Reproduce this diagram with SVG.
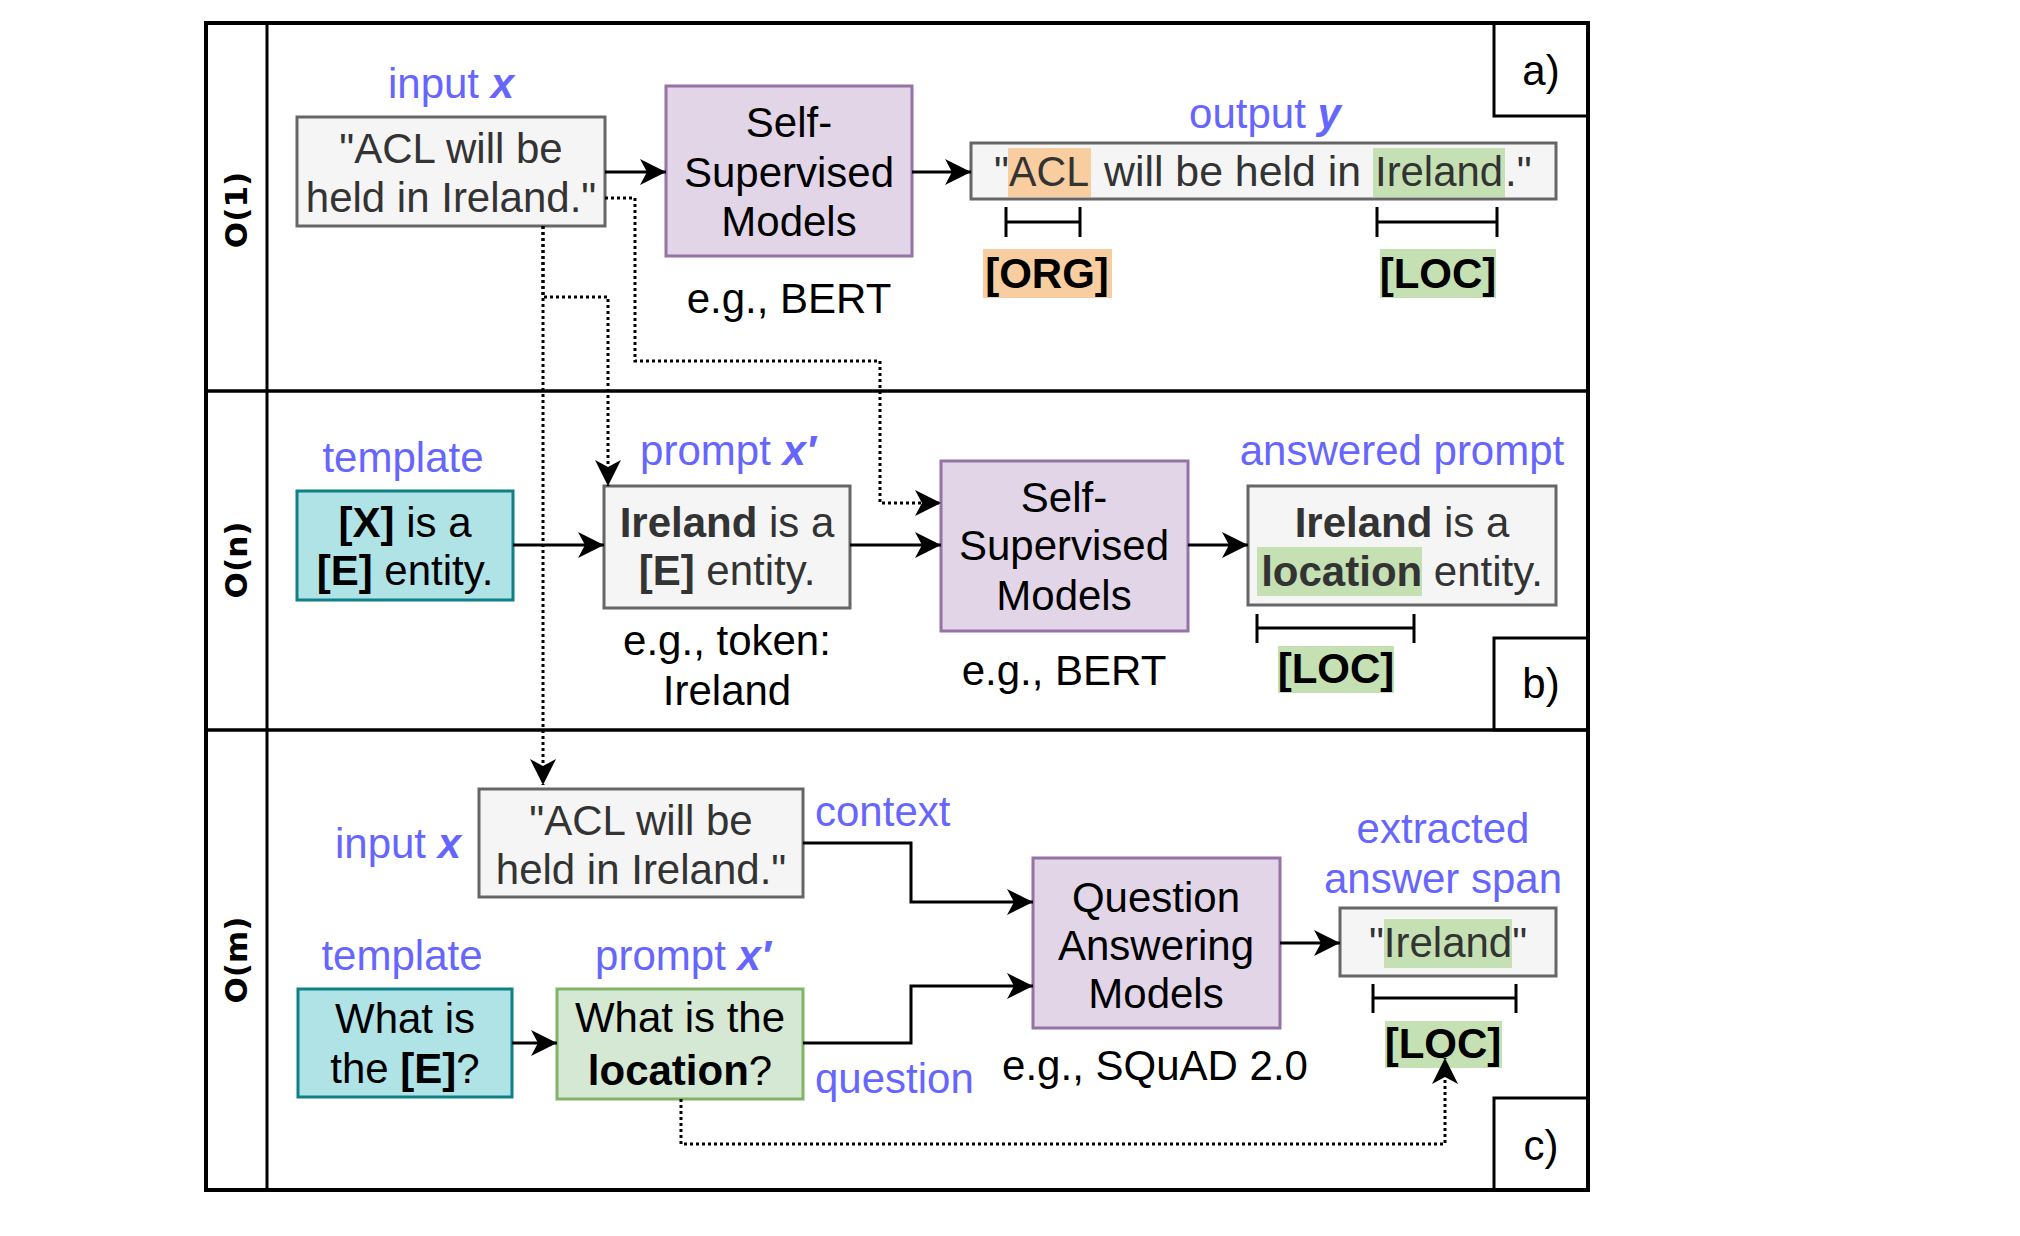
<svg xmlns="http://www.w3.org/2000/svg" width="2020" height="1236" viewBox="0 0 2020 1236">
<style>
text{font-family:"Liberation Sans",Arial,Helvetica,sans-serif;font-size:42px;fill:#000}
.c{text-anchor:middle}
.g{fill:#333333}
.b{font-weight:bold}
.bi{font-weight:bold;font-style:italic}
.blue{fill:#6666ff}
.lane{font-family:"DejaVu Sans",Verdana,sans-serif;font-weight:bold;font-size:31px;text-anchor:middle}
.gray{fill:#f5f5f5;stroke:#666666;stroke-width:3}
.purple{fill:#e1d5e7;stroke:#9673a6;stroke-width:3}
.teal{fill:#b0e3e6;stroke:#0e8088;stroke-width:3}
.green{fill:#d5e8d4;stroke:#82b366;stroke-width:3}
.hlg{fill:#c5e0b3}
.hlo{fill:#f8cea0}
.br{stroke:#000;stroke-width:3;fill:none}
.edge{stroke:#000;stroke-width:3;fill:none;marker-end:url(#arr)}
.dot{stroke:#000;stroke-width:3;fill:none;stroke-dasharray:3 3;marker-end:url(#arr)}
.frame{fill:none;stroke:#000;stroke-width:3}
</style>
<defs>
<marker id="arr" markerUnits="userSpaceOnUse" markerWidth="28" markerHeight="28" refX="26" refY="13" orient="auto" viewBox="0 0 28 28">
<path d="M0,0 L26,13 L0,26 L7,13 z" fill="#000"/>
</marker>
</defs>
<rect x="0" y="0" width="2020" height="1236" fill="#fff"/>

<g id="lanes">
<rect x="206" y="23" width="1382" height="1167" fill="#fff" stroke="#000" stroke-width="4"/>
<line x1="267" y1="23" x2="267" y2="1190" stroke="#000" stroke-width="3"/>
<line x1="206" y1="391" x2="1588" y2="391" stroke="#000" stroke-width="3.5"/>
<line x1="206" y1="730" x2="1588" y2="730" stroke="#000" stroke-width="3.5"/>
<text class="lane" transform="translate(247,210) rotate(-90)">O(1)</text>
<text class="lane" transform="translate(247,560) rotate(-90)">O(n)</text>
<text class="lane" transform="translate(247,960) rotate(-90)">O(m)</text>
</g>

<g id="tag-a"><rect x="1494" y="23" width="94" height="93" class="frame"/><text class="c" x="1541" y="85">a)</text></g>
<g id="tag-b"><rect x="1494" y="638" width="94" height="92" class="frame"/><text class="c" x="1541" y="698">b)</text></g>
<g id="tag-c"><rect x="1494" y="1098" width="94" height="92" class="frame"/><text class="c" x="1541" y="1160">c)</text></g>

<!-- Row a -->
<g id="a-input">
<text class="c blue" x="451" y="98">input <tspan class="bi">x</tspan></text>
<rect x="297" y="117" width="308" height="109" class="gray"/>
<text class="c g" x="451" y="163">"ACL will be</text>
<text class="c g" x="451" y="212">held in Ireland."</text>
</g>
<g id="a-model">
<rect x="666" y="86" width="246" height="170" class="purple"/>
<text class="c" x="789" y="137">Self-</text>
<text class="c" x="789" y="187">Supervised</text>
<text class="c" x="789" y="236">Models</text>
<text class="c" x="789" y="313">e.g., BERT</text>
</g>
<g id="a-output">
<text class="c blue" x="1265" y="128">output <tspan class="bi">y</tspan></text>
<rect x="971" y="143" width="585" height="56" class="gray"/>
<rect x="1008" y="148" width="83" height="49" class="hlo"/>
<rect x="1373" y="148" width="132" height="49" class="hlg"/>
<text class="g" x="994" y="186">"</text>
<text class="g" x="1009" y="186" textLength="80" lengthAdjust="spacingAndGlyphs">ACL</text>
<text class="g" x="1104" y="186" textLength="257" lengthAdjust="spacingAndGlyphs">will be held in</text>
<text class="g" x="1375" y="186" textLength="128" lengthAdjust="spacingAndGlyphs">Ireland</text>
<text class="g" x="1505" y="186">."</text>
<path class="br" d="M1006,207 V237 M1080,207 V237 M1006,222 H1080"/>
<path class="br" d="M1377,207 V237 M1497,207 V237 M1377,222 H1497"/>
<rect x="983" y="249" width="129" height="49" class="hlo"/>
<text class="c b" x="1047" y="288">[ORG]</text>
<rect x="1380" y="249" width="116" height="49" class="hlg"/>
<text class="c b" x="1438" y="288">[LOC]</text>
</g>

<!-- Row b -->
<g id="b-template">
<text class="c blue" x="403" y="472">template</text>
<rect x="297" y="491" width="216" height="109" class="teal"/>
<text class="c" x="405" y="537"><tspan class="b">[X]</tspan> is a</text>
<text class="c" x="405" y="585"><tspan class="b">[E]</tspan> entity.</text>
</g>
<g id="b-prompt">
<text class="c blue" x="728" y="465">prompt <tspan class="bi">x′</tspan></text>
<rect x="604" y="486" width="246" height="122" class="gray"/>
<text class="c g" x="727" y="537"><tspan class="b">Ireland</tspan> is a</text>
<text class="c g" x="727" y="585"><tspan class="b">[E]</tspan> entity.</text>
<text class="c" x="727" y="655">e.g., token:</text>
<text class="c" x="727" y="705">Ireland</text>
</g>
<g id="b-model">
<rect x="941" y="461" width="247" height="170" class="purple"/>
<text class="c" x="1064" y="512">Self-</text>
<text class="c" x="1064" y="560">Supervised</text>
<text class="c" x="1064" y="610">Models</text>
<text class="c" x="1064" y="685">e.g., BERT</text>
</g>
<g id="b-answer">
<text class="c blue" x="1402" y="465">answered prompt</text>
<rect x="1248" y="486" width="308" height="119" class="gray"/>
<rect x="1257" y="547" width="165" height="49" class="hlg"/>
<text class="c g" x="1402" y="537"><tspan class="b">Ireland</tspan> is a</text>
<text class="c g" x="1402" y="586"><tspan class="b">location</tspan> entity.</text>
<path class="br" d="M1257,614 V643 M1414,614 V643 M1257,628 H1414"/>
<rect x="1278" y="646" width="116" height="47" class="hlg"/>
<text class="c b" x="1336" y="683">[LOC]</text>
</g>

<!-- Row c -->
<g id="c-input">
<text class="c blue" x="398" y="858">input <tspan class="bi">x</tspan></text>
<rect x="479" y="789" width="324" height="108" class="gray"/>
<text class="c g" x="641" y="835">"ACL will be</text>
<text class="c g" x="641" y="884">held in Ireland."</text>
</g>
<g id="c-template">
<text class="c blue" x="402" y="970">template</text>
<rect x="298" y="989" width="214" height="108" class="teal"/>
<text class="c" x="405" y="1033">What is</text>
<text class="c" x="405" y="1083">the <tspan class="b">[E]</tspan>?</text>
</g>
<g id="c-prompt">
<text class="c blue" x="683" y="970">prompt <tspan class="bi">x′</tspan></text>
<rect x="557" y="989" width="246" height="110" class="green"/>
<text class="c" x="680" y="1032">What is the</text>
<text class="c" x="680" y="1085"><tspan class="b">location</tspan>?</text>
</g>
<g id="c-model">
<rect x="1033" y="858" width="247" height="170" class="purple"/>
<text class="c" x="1156" y="912">Question</text>
<text class="c" x="1156" y="960">Answering</text>
<text class="c" x="1156" y="1008">Models</text>
<text class="c" x="1155" y="1080">e.g., SQuAD 2.0</text>
</g>
<g id="c-span">
<text class="c blue" x="1443" y="843">extracted</text>
<text class="c blue" x="1443" y="893">answer span</text>
<rect x="1340" y="908" width="216" height="68" class="gray"/>
<rect x="1384" y="919" width="128" height="49" class="hlg"/>
<text class="c g" x="1448" y="957">"Ireland"</text>
<path class="br" d="M1373,984 V1013 M1516,984 V1013 M1373,998 H1516"/>
<rect x="1385" y="1021" width="117" height="47" class="hlg"/>
<text class="c b" x="1443" y="1058">[LOC]</text>
</g>

<g id="connectors">
<line class="edge" x1="605" y1="172" x2="666" y2="172"/>
<line class="edge" x1="912" y1="172" x2="971" y2="172"/>
<path class="dot" d="M605,198 H635 V361 H880 V503 H941"/>
<path class="dot" d="M543,226 V785"/>
<path class="dot" d="M543,226 V297 H608 V486"/>
<line class="edge" x1="513" y1="545" x2="604" y2="545"/>
<line class="edge" x1="850" y1="545" x2="941" y2="545"/>
<line class="edge" x1="1188" y1="545" x2="1248" y2="545"/>
<path class="edge" d="M803,843 H911 V902 H1033"/>
<line class="edge" x1="512" y1="1043" x2="557" y2="1043"/>
<path class="edge" d="M803,1043 H911 V986 H1033"/>
<line class="edge" x1="1280" y1="943" x2="1340" y2="943"/>
<path class="dot" d="M681,1099 V1144 H1445 V1058"/>
<text class="blue" x="815" y="826">context</text>
<text class="blue" x="815" y="1093">question</text>
</g>
</svg>
